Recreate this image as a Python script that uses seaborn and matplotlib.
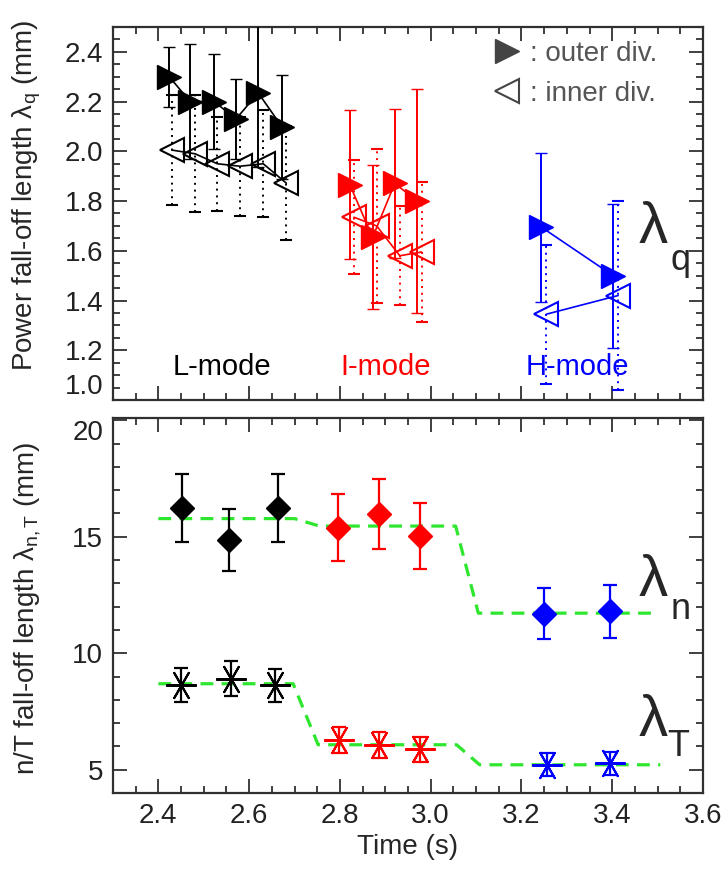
import numpy as np
import pandas as pd
import matplotlib
matplotlib.use("Agg")
import matplotlib.pyplot as plt
import seaborn as sns
from matplotlib.ticker import MultipleLocator
from matplotlib.lines import Line2D

# ---------------- top panel: power fall-off length lambda_q (mm) ----------------
t_out_L = [2.424, 2.470, 2.523, 2.571, 2.620, 2.673]
lq_out_L = [2.30, 2.20, 2.20, 2.13, 2.235, 2.097]
e_out_L = [0.12, 0.23, 0.19, 0.16, 0.30, 0.21]
t_in_L = [2.430, 2.481, 2.530, 2.580, 2.631, 2.682]
lq_in_L = [2.005, 1.99, 1.95, 1.94, 1.95, 1.872]
e_in_L = [0.22, 0.235, 0.19, 0.20, 0.215, 0.23]

t_out_I = [2.822, 2.872, 2.921, 2.970]
lq_out_I = [1.865, 1.654, 1.871, 1.80]
e_out_I = [0.30, 0.29, 0.30, 0.45]
t_in_I = [2.831, 2.881, 2.932, 2.980]
lq_in_I = [1.735, 1.70, 1.58, 1.595]
e_in_I = [0.23, 0.31, 0.20, 0.28]

t_out_H = [3.244, 3.402]
lq_out_H = [1.695, 1.50]
e_out_H = [0.30, 0.29]
t_in_H = [3.255, 3.413]
lq_in_H = [1.345, 1.42]
e_in_H = [0.28, 0.38]

modes = ["L-mode", "I-mode", "H-mode"]
mode_colors = ["black", "#ff0000", "#0000ff"]
mode_label_x = [2.54, 2.90, 3.324]
mode_label_y = 1.134

# ---------------- bottom panel: n/T fall-off lengths (mm) ----------------
t_n = [2.453, 2.556, 2.663, 2.796, 2.886, 2.977, 3.250, 3.395]
lam_n = [16.24, 14.87, 16.24, 15.39, 15.96, 15.03, 11.70, 11.80]
err_n = [1.47, 1.34, 1.47, 1.45, 1.50, 1.40, 1.10, 1.13]
t_T = [2.451, 2.561, 2.658, 2.798, 2.887, 2.976, 3.256, 3.396]
lam_T = [8.65, 8.91, 8.62, 6.28, 6.07, 5.88, 5.21, 5.28]
err_T = [0.73, 0.75, 0.71, 0.55, 0.55, 0.53, 0.50, 0.50]
point_mode = ["L-mode", "L-mode", "L-mode", "I-mode", "I-mode", "I-mode", "H-mode", "H-mode"]

fit_t_n = [2.40, 2.700, 2.755, 3.055, 3.105, 3.50]
fit_n = [15.78, 15.78, 15.46, 15.46, 11.72, 11.72]
fit_t_T = [2.40, 2.697, 2.752, 3.057, 3.108, 3.506]
fit_T = [8.69, 8.69, 6.07, 6.07, 5.21, 5.21]

# ---------------- style ----------------
sns.set_style("ticks")
plt.rcParams["font.family"] = ["Liberation Sans", "DejaVu Sans"]
plt.rcParams["mathtext.fontset"] = "custom"
plt.rcParams["mathtext.rm"] = "Liberation Sans"
plt.rcParams["mathtext.it"] = "Liberation Sans:italic"
plt.rcParams["axes.edgecolor"] = "#303030"
plt.rcParams["axes.linewidth"] = 1.6

GREEN = "#2ee62e"
fig = plt.figure(figsize=(7.26, 8.71), dpi=100)
ax1 = fig.add_axes([0.1556, 0.5408, 0.8127, 0.4282])
ax2 = fig.add_axes([0.1556, 0.0896, 0.8127, 0.4305])

cmap = dict(zip(modes, mode_colors))

top_groups = [
    ("L-mode", t_out_L, lq_out_L, e_out_L, t_in_L, lq_in_L, e_in_L),
    ("I-mode", t_out_I, lq_out_I, e_out_I, t_in_I, lq_in_I, e_in_I),
    ("H-mode", t_out_H, lq_out_H, e_out_H, t_in_H, lq_in_H, e_in_H),
]
for mode, to, yo, eo, ti, yi, ei in top_groups:
    c = cmap[mode]
    sns.lineplot(x=ti, y=yi, ax=ax1, color=c, lw=1.2, sort=False, estimator=None, zorder=2)
    sns.lineplot(x=to, y=yo, ax=ax1, color=c, lw=1.2, sort=False, estimator=None, zorder=3)
    eb = ax1.errorbar(ti, yi, yerr=ei, fmt="<", ms=17, mfc="none", mec=c, mew=1.5,
                      ecolor=c, elinewidth=1.4, capsize=4, capthick=1.4, zorder=4)
    eb[2][0].set_linestyle((0, (1, 2.5)))
    ax1.errorbar(to, yo, yerr=eo, fmt=">", ms=17, mfc=c, mec=c, mew=1,
                 ecolor=c, elinewidth=1.4, capsize=4, capthick=1.4, zorder=5)

for m, xm in zip(modes, mode_label_x):
    ax1.text(xm, mode_label_y, m, color=cmap[m], fontsize=21, ha="center", va="center")

handles = [Line2D([], [], ls="none", marker=">", ms=17, mfc="#444444", mec="#444444"),
           Line2D([], [], ls="none", marker="<", ms=17, mfc="none", mec="#444444", mew=1.5)]
ax1.legend(handles, [": outer div.", ": inner div."], loc="upper left",
           bbox_to_anchor=(0.645, 0.962), frameon=False, fontsize=20,
           handlelength=1.0, handletextpad=0.3, labelspacing=0.5,
           borderpad=0, borderaxespad=0, labelcolor="#555555")

ax1.text(0.915, 0.461, "λ", transform=ax1.transAxes, fontsize=42, ha="center", va="center")
ax1.text(0.962, 0.375, "q", transform=ax1.transAxes, fontsize=26, ha="center", va="center")

ax1.set_xlim(2.3, 3.6)
ax1.set_ylim(1.0, 2.5)
ax1.set_ylabel(r"Power fall-off length λ$_\mathrm{q}$ (mm)", fontsize=20)
ax1.yaxis.set_label_coords(-0.118, 0.55)
ax1.set_xlabel("")
ax1.xaxis.set_major_locator(MultipleLocator(0.2))
ax1.xaxis.set_minor_locator(MultipleLocator(0.05))
ax1.yaxis.set_major_locator(MultipleLocator(0.2))
ax1.yaxis.set_minor_locator(MultipleLocator(0.05))
ax1.tick_params(labelbottom=False)

# bottom panel
df = pd.DataFrame({"t_n": t_n, "lam_n": lam_n, "err_n": err_n,
                   "t_T": t_T, "lam_T": lam_T, "err_T": err_T, "mode": point_mode})
sns.lineplot(x=fit_t_n, y=fit_n, ax=ax2, color=GREEN, lw=2.3, linestyle=(0, (4, 2.6)),
             sort=False, estimator=None, zorder=2)
sns.lineplot(x=fit_t_T, y=fit_T, ax=ax2, color=GREEN, lw=2.3, linestyle=(0, (4, 2.6)),
             sort=False, estimator=None, zorder=2)
for m in modes:
    sub = df[df["mode"] == m]
    c = cmap[m]
    ax2.errorbar(sub["t_n"], sub["lam_n"], yerr=sub["err_n"], fmt="D", ms=12.5, mfc=c, mec=c,
                 ecolor=c, elinewidth=1.6, capsize=5, capthick=1.6, zorder=4)
    ax2.errorbar(sub["t_T"], sub["lam_T"], yerr=sub["err_T"], fmt="none",
                 ecolor=c, elinewidth=1.6, capsize=5, capthick=1.6, zorder=4)
    ax2.plot(sub["t_T"], sub["lam_T"], ls="none", marker=(6, 2, 90), ms=22, mec=c, mew=1.5, zorder=5)

ax2.text(0.915, 0.565, "λ", transform=ax2.transAxes, fontsize=42, ha="center", va="center")
ax2.text(0.962, 0.49, "n", transform=ax2.transAxes, fontsize=26, ha="center", va="center")
ax2.text(0.915, 0.192, "λ", transform=ax2.transAxes, fontsize=42, ha="center", va="center")
ax2.text(0.958, 0.125, "T", transform=ax2.transAxes, fontsize=26, ha="center", va="center")

ax2.set_xlim(2.3, 3.6)
ax2.set_ylim(4, 20.1)
ax2.set_xlabel("Time (s)", fontsize=20)
ax2.set_ylabel(r"n/T fall-off length λ$_\mathrm{n,T}$ (mm)", fontsize=20)
ax2.yaxis.set_label_coords(-0.118, 0.493)
ax2.xaxis.set_major_locator(MultipleLocator(0.2))
ax2.xaxis.set_minor_locator(MultipleLocator(0.05))
ax2.yaxis.set_major_locator(MultipleLocator(5))
ax2.yaxis.set_minor_locator(MultipleLocator(1))

for ax in (ax1, ax2):
    ax.tick_params(which="both", direction="in", top=True, right=True, colors="#303030",
                   labelcolor="#222222", labelsize=20, width=1.3)
    ax.tick_params(which="major", length=10, pad=7)
    ax.tick_params(which="minor", length=5)
    for s in ax.spines.values():
        s.set_visible(True)

# nudge the edge tick labels apart, as in the reference
fig.canvas.draw()
for tk in ax1.yaxis.get_major_ticks():
    if abs(tk.get_loc() - 1.0) < 1e-6:
        tk.label1.set_va("bottom")
for tk in ax2.yaxis.get_major_ticks():
    if abs(tk.get_loc() - 20.0) < 1e-6:
        tk.label1.set_va("top")

fig.savefig("out.png", dpi=100)
